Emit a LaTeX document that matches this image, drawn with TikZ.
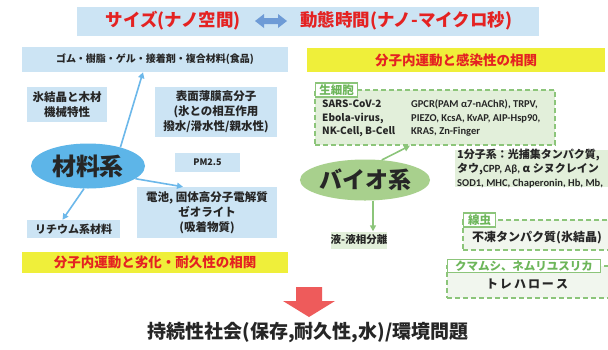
\documentclass[tikz,border=0pt]{standalone}
\usepackage{fontspec}
\setmainfont{Noto Sans CJK JP}
\newfontfamily\lat{Carlito}
\usetikzlibrary{shapes.geometric,arrows.meta}
\definecolor{lblue}{HTML}{CCE4F4}
\definecolor{eblue}{HTML}{5DB5E8}
\definecolor{ablue}{HTML}{6CB8EA}
\definecolor{ygreen}{HTML}{A8D08D}
\definecolor{lgreen}{HTML}{E2EFDA}
\definecolor{vlgreen}{HTML}{F1F6EE}
\definecolor{dgreen}{HTML}{8CC57A}
\definecolor{tgreen}{HTML}{6DB65A}
\definecolor{yell}{HTML}{EFEF3A}
\definecolor{tred}{HTML}{E42222}
\definecolor{dblue}{HTML}{6E9BD6}
\definecolor{rarrow}{HTML}{EE5B5B}
\definecolor{txt}{HTML}{262626}
\newcommand\fsz[1]{\fontsize{#1}{\fpeval{#1*1.3}}\selectfont}
\begin{document}
\begin{tikzpicture}[x=1pt,y=-1pt,
  fs/.style={font=\bfseries\fsz{#1}},
  lbox/.style={fill=lblue, inner sep=0pt, align=center, text=txt},
  ybox/.style={fill=yell, inner sep=0pt, text=tred, font=\bfseries\fsz{13.5}},
  title/.style={text=tred, inner sep=0pt, font=\bfseries\fsz{17.5}},
  barrow/.style={draw=ablue, line width=1.6pt, -{Triangle[length=6pt,width=6pt]}},
  garrow/.style={draw=dgreen, line width=1.6pt, -{Triangle[length=6pt,width=6pt]}},
  dbox/.style={draw=dgreen, line width=1.3pt, dash pattern=on 5pt off 3pt, inner sep=0pt},
  labbox/.style={draw=dgreen, fill=white, line width=1.2pt, inner sep=0pt, text=tgreen, font=\bfseries\fsz{11.5}},
  gtext/.style={inner sep=0pt, align=left, text=txt}
]
\useasboundingbox (0,0) rectangle (608,349);
\fill[white] (0,0) rectangle (608,349);

% banner
\node[fill=lblue, minimum width=462, minimum height=29, inner sep=0pt] (banner) at (308,21) {};
\node[title, anchor=east] (t1) at (241,21) {サイズ(ナノ空間)};
\node[title, anchor=west] (t2) at (300,21) {動態時間(ナノ-マイクロ秒)};
\fill[dblue] (255,21) -- (264,14) -- (264,18) -- (278,18) -- (278,14) -- (287,21) -- (278,28) -- (278,24) -- (264,24) -- (264,28) -- cycle;

% left panel
\node[lbox, fs=10, minimum width=266, minimum height=25] (gomu) at (155,59.5) {ゴム・樹脂・ゲル・接着剤・複合材料(食品)};
\node[lbox, fs=11.5, minimum width=80, minimum height=35] (hyou) at (67,104.5) {氷結晶と木材\\機械特性};
\node[lbox, fs=11.5, minimum width=122, minimum height=50] (hyomen) at (216,112) {表面薄膜高分子\\(氷との相互作用\\撥水/滑水性/親水性)};
\node[ellipse, fill=eblue, minimum width=114, minimum height=45, inner sep=0pt, text=txt, font=\bfseries\fsz{24}] (zairyo) at (88,166) {材料系};
\node[lbox, fs=9, minimum width=65, minimum height=19] (pm) at (207.5,162.5) {PM2.5};
\node[lbox, fs=11.5, minimum width=140, minimum height=51] (denchi) at (207,212.5) {電池, 固体高分子電解質\\ゼオライト\\(吸着物質)};
\node[lbox, fs=11, minimum width=93, minimum height=18] (li) at (73.5,229) {リチウム系材料};
\node[ybox, minimum width=266, minimum height=21] (corrL) at (155,262.5) {分子内運動と劣化・耐久性の相関};

\draw[barrow] (zairyo.30) -- ([xshift=-12pt]gomu.south);
\draw[barrow] (zairyo.-15) -- ([xshift=-24pt]denchi.north);
\draw[barrow] (zairyo.-100) -- ([xshift=-11pt]li.north);

% right panel
\node[ybox, minimum width=298, minimum height=24] (corrR) at (456,60) {分子内運動と感染性の相関};
\node[dbox, fill=lgreen, minimum width=240, minimum height=55] (cell) at (435,117.5) {};
\node[labbox, minimum width=42, minimum height=14, anchor=west] (cellL) at (315,90) {生細胞};
\node[gtext, anchor=north west, font=\bfseries\fontsize{10}{13.5}\selectfont] (cellA) at (322,100) {SARS-CoV-2\\Ebola-virus,\\NK-Cell, B-Cell};
\node[gtext, anchor=north west, font=\lat\bfseries\fontsize{10.5}{13.5}\selectfont] (cellB) at (411,100) {GPCR(PAM α7-nAChR), TRPV,\\PIEZO, KcsA, KvAP, AIP-Hsp90,\\KRAS, Zn-Finger};

\node[ellipse, fill=ygreen, minimum width=96, minimum height=41, inner sep=0pt, text=txt, font=\bfseries\fsz{23}] (bio) at (365,180) {バイオ系};
\node[fill=lgreen, minimum width=153, minimum height=37, inner sep=0pt] (single) at (531.5,168.5) {};
\node[gtext, anchor=west, font=\bfseries\fontsize{11}{14}\selectfont] (singleT) at (457,168.5) {1分子系：光捕集タンパク質,\\タウ,{\lat CPP, Aβ,} α シヌクレイン\\{\lat\fontsize{10.5}{14}\selectfont SOD1, MHC, Chaperonin, Hb, Mb,}};
\node[fill=lgreen, fs=10.5, text=txt, minimum width=52, minimum height=17, inner sep=0pt] (ekieki) at (359,240) {液-液相分離};

\draw[garrow] (bio.50) -- ([xshift=-25pt]cell.south);
\draw[garrow] ([xshift=8pt]bio.south) -- ([xshift=14pt]ekieki.north);

\node[dbox, fill=vlgreen, minimum width=149, minimum height=30] (senchu) at (537.5,235) {};
\node[labbox, minimum width=32, minimum height=14, anchor=west] (senchuL) at (463,220) {線虫};
\node[gtext, fs=12] (senchuT) at (537,238) {不凍タンパク質(氷結晶)};

\node[dbox, fill=vlgreen, minimum width=165, minimum height=32] (kuma) at (529.5,282) {};
\node[labbox, minimum width=153, minimum height=13, anchor=west] (kumaL) at (447,266) {クマムシ、ネムリユスリカ};
\node[gtext, fs=12] (kumaT) at (527,284) {ト\,レ\,ハ\,ロ\,ー\,ス};

% bottom
\fill[rarrow] (296,287) -- (322,287) -- (322,301) -- (335,301) -- (309,317) -- (283,301) -- (296,301) -- cycle;
\node[inner sep=0pt, text=txt, font=\bfseries\fsz{19}] (goal) at (308,333) {持続性社会(保存,耐久性,水)/環境問題};
\end{tikzpicture}
\end{document}
